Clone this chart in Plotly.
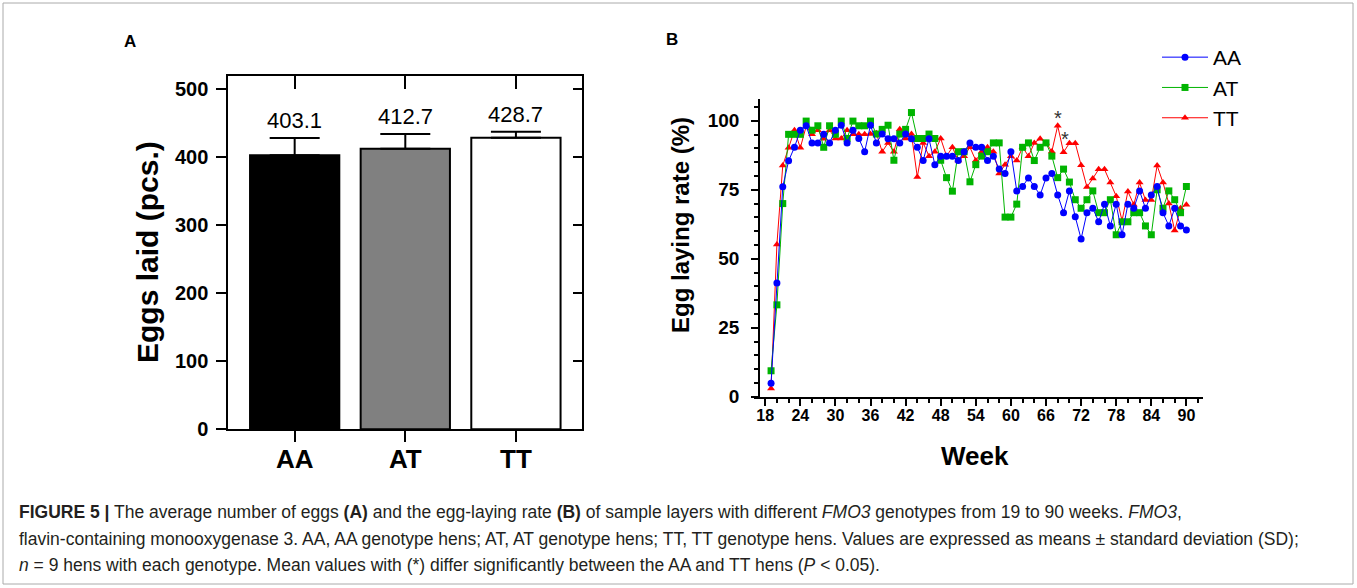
import plotly.graph_objects as go

W, H = 1357, 588


def fx(p):
    return p / W


def fy(p):
    return 1 - p / H


# ---------------- data ----------------
genotypes = ["AA", "AT", "TT"]
eggs_mean = [403.1, 412.7, 428.7]
eggs_sd = [25.3, 21.6, 9.0]
eggs_labels = ["403.1", "412.7", "428.7"]
bar_colors = ["#000000", "#808080", "#ffffff"]

weeks = list(range(19, 91))
rate_AA = [4.9, 41.2, 76.1, 85.5, 90.4, 96.6, 98.2, 92.0, 92.0, 95.1,
           92.0, 96.6, 98.4, 92.0, 96.6, 93.6, 88.8, 98.4, 92.0, 95.2,
           93.5, 93.5, 92.0, 95.2, 93.5, 90.4, 85.6, 93.5, 84.1, 87.2,
           87.2, 87.2, 85.6, 88.8, 92.0, 90.4, 90.4, 85.6, 87.2, 82.5,
           80.9, 88.8, 74.6, 76.2, 79.3, 76.2, 73.1, 79.3, 80.9, 73.1,
           66.7, 74.6, 65.2, 57.2, 66.7, 68.3, 63.4, 69.8, 61.9, 69.8,
           58.7, 69.8, 68.3, 74.6, 68.3, 73.1, 76.2, 66.7, 61.9, 68.3,
           61.9, 60.4]
rate_AT = [9.4, 33.3, 70.0, 95.1, 95.1, 95.1, 99.9, 96.6, 98.2, 90.4,
           98.2, 95.1, 99.9, 93.6, 99.9, 98.2, 98.2, 99.9, 95.2, 96.9,
           98.4, 85.7, 95.2, 96.9, 103.0, 93.6, 93.6, 95.2, 93.6, 85.7,
           79.4, 74.5, 88.8, 88.8, 77.9, 84.1, 87.2, 88.8, 92.0, 92.0,
           65.1, 65.1, 69.8, 90.4, 92.0, 85.6, 90.4, 92.0, 87.2, 79.4,
           82.5, 77.8, 71.4, 68.3, 71.4, 74.6, 66.7, 66.7, 71.4, 58.7,
           63.4, 63.4, 66.7, 66.7, 61.9, 58.7, 75.0, 68.3, 74.6, 71.4,
           66.7, 76.2]
rate_TT = [3.0, 55.2, 83.8, 90.2, 96.6, 90.2, 98.0, 95.1, 96.6, 93.5,
           96.6, 93.6, 93.6, 96.6, 95.1, 95.1, 95.1, 95.2, 95.5, 88.8,
           92.0, 88.8, 96.9, 93.6, 95.2, 79.6, 92.0, 87.2, 88.8, 93.6,
           87.2, 90.4, 85.6, 87.2, 90.4, 85.6, 88.8, 90.4, 88.8, 80.9,
           84.1, 87.2, 85.6, 90.4, 87.2, 92.0, 93.5, 92.0, 88.9, 98.2,
           88.6, 91.9, 91.9, 83.9, 76.0, 79.1, 82.4, 82.4, 77.6, 72.7,
           63.8, 74.4, 69.6, 77.6, 71.3, 71.3, 83.8, 77.6, 70.0, 60.2,
           68.3, 69.6]
signif_weeks = [68, 69]

series = [
    ("AA", rate_AA, "#0000ff", "circle", 1),
    ("AT", rate_AT, "#00b400", "square", 2),
    ("TT", rate_TT, "#ff0000", "triangle-up", 3),
]

FONT = "Liberation Sans, Arial, sans-serif"

fig = go.Figure()

# ---------------- panel A ----------------
fig.add_trace(go.Bar(
    x=genotypes, y=eggs_mean, width=0.807,
    marker=dict(color=bar_colors, line=dict(color="black", width=2)),
    error_y=dict(type="data", array=eggs_sd, arrayminus=[0] * len(eggs_sd),
                 symmetric=False, color="black", thickness=2, width=25),
    xaxis="x", yaxis="y", showlegend=False, hoverinfo="skip"))
# invisible trace that carries the inward mirror ticks
fig.add_trace(go.Scatter(x=[0], y=[0], xaxis="x3", yaxis="y3", mode="markers",
                         marker=dict(opacity=0), showlegend=False, hoverinfo="skip"))

# ---------------- panel B ----------------
for name, vals, col, sym, rank in [series[2], series[1], series[0]]:
    fig.add_trace(go.Scatter(
        x=weeks, y=vals, name=name, mode="lines+markers",
        line=dict(color=col, width=1),
        marker=dict(color=col, symbol=sym, size=7),
        xaxis="x2", yaxis="y2", legendrank=rank, cliponaxis=False))

axis_common = dict(showgrid=False, zeroline=False, linecolor="black",
                   tickcolor="black", automargin=False)

a_dom_x = [fx(228.3), fx(582.3)]
a_dom_y = [fy(429.3), fy(75.7)]
b_dom_x = [fx(753.8), fx(1203.3)]
b_dom_y = [fy(396.7), fy(99.3)]

fig.update_layout(
    template="none",
    width=W, height=H, autosize=False,
    margin=dict(l=0, r=0, t=0, b=0),
    paper_bgcolor="white", plot_bgcolor="rgba(0,0,0,0)",
    font=dict(family=FONT, color="black"),
    xaxis=dict(domain=a_dom_x, anchor="y", type="category",
               categoryorder="array", categoryarray=genotypes,
               range=[-0.6, 2.6], showline=True, linewidth=2, mirror=True,
               ticks="outside", ticklen=11, tickwidth=2, ticklabelstandoff=-6,
               tickfont=dict(size=26, family=FONT, weight="bold"),
               **axis_common),
    yaxis=dict(domain=a_dom_y, anchor="x", range=[0, 520],
               tickvals=[0, 100, 200, 300, 400, 500],
               showline=True, linewidth=2, mirror=True,
               ticks="outside", ticklen=10, tickwidth=2, ticklabelstandoff=4,
               tickfont=dict(size=20, family=FONT, weight="bold"),
               **axis_common),
    xaxis3=dict(overlaying="x", anchor="y3", side="top", range=[-0.6, 2.6],
                tickvals=[0, 1, 2], ticks="inside", ticklen=13, tickwidth=2,
                showticklabels=False, showline=False, **axis_common),
    yaxis3=dict(overlaying="y", anchor="x3", side="right", range=[0, 520],
                tickvals=[0, 100, 200, 300, 400, 500], ticks="inside",
                ticklen=9, tickwidth=2, showticklabels=False, showline=False,
                **axis_common),
    xaxis2=dict(domain=b_dom_x, anchor="y2", range=[16.05, 92.89],
                tick0=18, dtick=6, showline=True, linewidth=1.5,
                ticks="outside", ticklen=8, tickwidth=1.5, ticklabelstandoff=-5,
                tickfont=dict(size=16, family=FONT, weight="bold"),
                minor=dict(tick0=18, dtick=2, ticks="outside", ticklen=5,
                           tickwidth=1.5, tickcolor="black", showgrid=False),
                **axis_common),
    yaxis2=dict(domain=b_dom_y, anchor="free", position=fx(759),
                range=[0, 107.8], tick0=0, dtick=25, showline=True,
                linewidth=1.5, ticks="outside", ticklen=7, tickwidth=1.5,
                ticklabelstandoff=8,
                tickfont=dict(size=19, family=FONT, weight="bold"),
                minor=dict(tick0=0, dtick=5, ticks="outside", ticklen=4,
                           tickwidth=1.5, tickcolor="black", showgrid=False),
                **axis_common),
    legend=dict(x=fx(1157), y=fy(37), xanchor="left", yanchor="top",
                font=dict(size=21, family=FONT, color="black"),
                bgcolor="rgba(0,0,0,0)", tracegroupgap=0, itemwidth=46),
    showlegend=True,
)

annotations = []
# value labels above bars
for g, m, s, lab in zip(genotypes, eggs_mean, eggs_sd, eggs_labels):
    annotations.append(dict(x=g, y=m + s, xref="x", yref="y", text=lab,
                            showarrow=False, xanchor="center", yanchor="bottom",
                            yshift=3,
                            font=dict(size=22, family=FONT, color="black")))
# significance stars
for wk, ys, xs in zip(signif_weeks, [-5, 0], [0, 1]):
    i = weeks.index(wk)
    annotations.append(dict(x=wk, y=rate_TT[i], xref="x2", yref="y2", text="*",
                            showarrow=False, xanchor="center", yanchor="bottom",
                            yshift=ys, xshift=xs,
                            font=dict(size=20, family=FONT, color="#333333")))
# panel letters and axis titles
ctr = dict(xref="paper", yref="paper", showarrow=False,
           xanchor="center", yanchor="middle")
annotations += [
    dict(x=fx(130), y=fy(41), text="<b>A</b>",
         font=dict(size=17, family=FONT), **ctr),
    dict(x=fx(672), y=fy(40), text="<b>B</b>",
         font=dict(size=17, family=FONT), **ctr),
    dict(x=fx(147), y=fy(252), text="<b>Eggs laid (pcs.)</b>", textangle=-90,
         font=dict(size=30, family=FONT), **ctr),
    dict(x=fx(680), y=fy(225), text="<b>Egg laying rate (%)</b>", textangle=-90,
         font=dict(size=24, family=FONT), **ctr),
    dict(x=fx(975), y=fy(456), text="<b>Week</b>",
         font=dict(size=26, family=FONT), **ctr),
]
# caption
cap = [
    "<b>FIGURE 5 |</b> The average number of eggs <b>(A)</b> and the egg-laying rate "
    "<b>(B)</b> of sample layers with different <i>FMO3</i> genotypes from 19 to 90 weeks. "
    "<i>FMO3</i>,",
    "flavin-containing monooxygenase 3. AA, AA genotype hens; AT, AT genotype hens; "
    "TT, TT genotype hens. Values are expressed as means ± standard deviation (SD);",
    "<i>n</i> = 9 hens with each genotype. Mean values with (*) differ significantly "
    "between the AA and TT hens (<i>P</i> &lt; 0.05).",
]
for t, yy in zip(cap, [512, 539, 565]):
    annotations.append(dict(x=fx(17), y=fy(yy), xref="paper", yref="paper",
                            text=t, showarrow=False, xanchor="left",
                            yanchor="middle", align="left",
                            font=dict(size=17.5, family=FONT, color="#231f20")))
fig.update_layout(annotations=annotations)

fig.update_layout(shapes=[
    dict(type="rect", xref="paper", yref="paper", x0=fx(3), x1=fx(1353),
         y0=fy(584), y1=fy(3), line=dict(color="#aaaaaa", width=1)),
])

fig.write_html("out.html",
               config={"displayModeBar": False},
               post_script="document.body.style.margin='0';"
                           "document.body.style.overflow='hidden';")
